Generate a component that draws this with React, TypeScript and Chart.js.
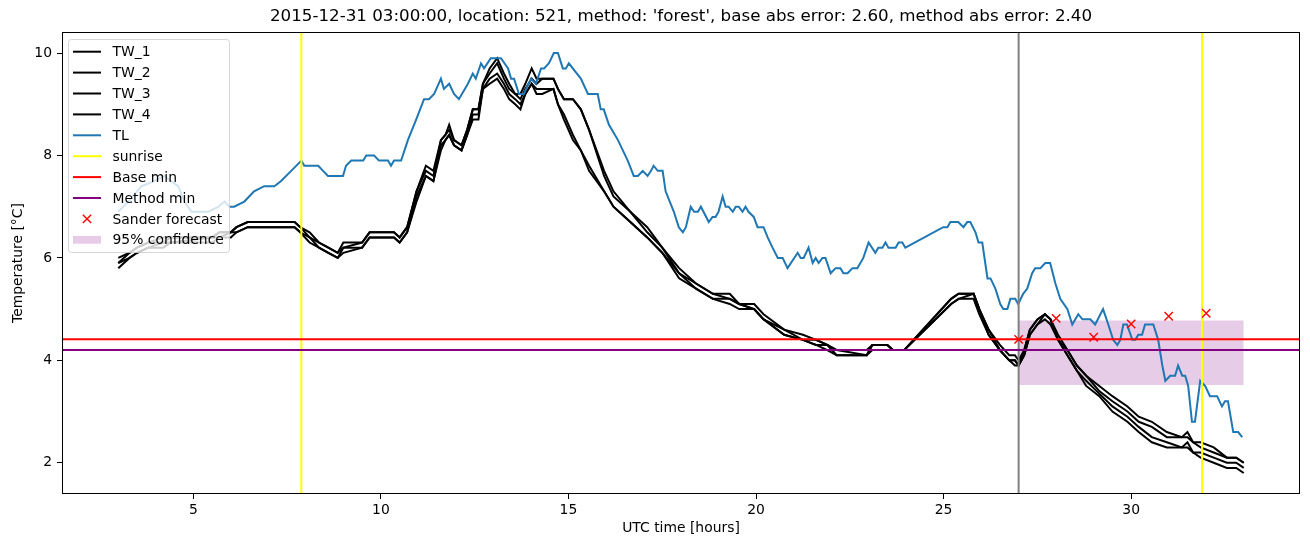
import React, { useEffect, useRef } from "react";
import { Chart, registerables } from "chart.js";

Chart.register(...registerables);

const TITLE =
  "2015-12-31 03:00:00, location: 521, method: 'forest', base abs error: 2.60, method abs error: 2.40";
const X_LABEL = "UTC time [hours]";
const Y_LABEL = "Temperature [°C]";
const X_TICKS = [5, 10, 15, 20, 25, 30];
const Y_TICKS = [2, 4, 6, 8, 10];
const X_MIN = 1.5;
const X_MAX = 34.5;
const Y_MIN = 1.39;
const Y_MAX = 10.41;

// TL: [hour, temperature]
const TL_SERIES: [number, number][] = [
  [3.0, 6.9], [3.27, 7.1], [3.62, 7.4], [3.96, 7.5], [4.23, 7.6], [4.41, 7.5], [4.6, 7.4], [4.76, 7.1],
  [4.95, 6.9], [5.13, 6.9], [5.4, 6.9], [5.67, 7.0], [5.83, 7.1], [5.96, 7.0], [6.09, 7.0], [6.36, 7.1],
  [6.62, 7.3], [6.89, 7.4], [7.16, 7.4], [7.34, 7.5], [7.61, 7.7], [7.88, 7.9], [7.96, 7.8], [8.33, 7.8],
  [8.46, 7.7], [8.59, 7.6], [8.99, 7.6], [9.07, 7.8], [9.21, 7.9], [9.53, 7.9], [9.61, 8.0], [9.82, 8.0],
  [9.95, 7.9], [10.19, 7.9], [10.27, 7.8], [10.35, 7.9], [10.54, 7.9], [10.72, 8.3], [10.94, 8.7], [11.15, 9.1],
  [11.28, 9.1], [11.42, 9.2], [11.6, 9.5], [11.68, 9.3], [11.82, 9.4], [11.95, 9.2], [12.08, 9.1], [12.32, 9.4],
  [12.45, 9.6], [12.53, 9.5], [12.67, 9.8], [12.75, 9.7], [12.93, 9.9], [13.2, 9.9], [13.39, 9.7], [13.47, 9.5],
  [13.55, 9.5], [13.68, 9.2], [13.81, 9.2], [14.0, 9.5], [14.13, 9.4], [14.27, 9.7], [14.35, 9.7], [14.48, 9.8],
  [14.61, 10.0], [14.72, 10.0], [14.85, 9.7], [14.93, 9.7], [15.01, 9.8], [15.33, 9.5], [15.52, 9.2], [15.68, 9.2],
  [15.78, 9.2], [15.86, 8.9], [15.94, 8.9], [16.08, 8.6], [16.32, 8.3], [16.58, 7.9], [16.74, 7.6], [16.85, 7.6],
  [16.98, 7.7], [17.11, 7.6], [17.2, 7.7], [17.27, 7.8], [17.38, 7.7], [17.51, 7.7], [17.59, 7.3], [17.7, 7.1],
  [17.81, 6.9], [17.94, 6.6], [18.05, 6.5], [18.13, 6.6], [18.26, 7.0], [18.35, 6.9], [18.45, 6.9], [18.53, 7.0],
  [18.74, 6.7], [18.84, 6.8], [18.92, 6.8], [19.0, 6.9], [19.11, 7.2], [19.19, 7.0], [19.27, 7.0], [19.38, 6.9],
  [19.46, 7.0], [19.54, 7.0], [19.64, 6.9], [19.72, 7.0], [19.8, 6.9], [19.94, 6.8], [20.04, 6.6], [20.2, 6.6],
  [20.31, 6.4], [20.44, 6.2], [20.58, 6.0], [20.71, 6.0], [20.84, 5.8], [21.11, 6.1], [21.19, 6.0], [21.27, 6.0],
  [21.4, 6.2], [21.51, 5.9], [21.59, 6.0], [21.67, 5.9], [21.77, 6.0], [21.85, 6.0], [21.99, 5.7], [22.12, 5.8],
  [22.25, 5.8], [22.33, 5.7], [22.44, 5.7], [22.57, 5.8], [22.7, 5.8], [22.86, 6.0], [23.0, 6.3], [23.18, 6.1],
  [23.26, 6.2], [23.37, 6.2], [23.45, 6.3], [23.53, 6.2], [23.72, 6.2], [23.8, 6.3], [23.9, 6.3], [23.98, 6.2],
  [24.99, 6.6], [25.1, 6.6], [25.18, 6.7], [25.39, 6.7], [25.53, 6.6], [25.63, 6.7], [25.71, 6.7], [25.85, 6.5],
  [25.93, 6.3], [26.03, 6.3], [26.17, 5.6], [26.25, 5.6], [26.38, 5.4], [26.51, 5.1], [26.59, 5.0], [26.7, 5.0],
  [26.78, 5.2], [26.91, 5.2], [26.99, 5.1], [27.12, 5.3], [27.23, 5.4], [27.36, 5.7], [27.44, 5.8], [27.58, 5.8],
  [27.71, 5.9], [27.84, 5.9], [27.98, 5.5], [28.11, 5.2], [28.3, 5.0], [28.43, 4.7], [28.59, 4.9], [28.7, 4.8],
  [28.91, 4.8], [29.04, 4.7], [29.25, 5.0], [29.39, 4.7], [29.52, 4.4], [29.63, 4.3], [29.71, 4.4], [29.79, 4.7],
  [29.89, 4.7], [30.03, 4.4], [30.11, 4.4], [30.19, 4.5], [30.29, 4.5], [30.37, 4.7], [30.59, 4.7], [30.72, 4.4],
  [30.83, 3.9], [30.91, 3.6], [31.04, 3.7], [31.17, 3.7], [31.25, 3.9], [31.36, 3.7], [31.44, 3.7], [31.52, 3.5],
  [31.62, 2.8], [31.7, 2.8], [31.84, 3.6], [31.97, 3.5], [32.1, 3.3], [32.29, 3.3], [32.42, 3.1], [32.5, 3.2],
  [32.58, 3.2], [32.72, 2.6], [32.85, 2.6], [32.96, 2.5],
];

const TW_HOURS = [
  3.0, 3.3, 3.5, 3.8, 4.2, 4.4, 5.5, 5.7, 6.0, 6.15,
  6.45, 7.7, 7.85, 8.1, 8.35, 8.6, 8.85, 9.0, 9.5, 9.7,
  10.35, 10.5, 10.7, 10.95, 11.2, 11.4, 11.6, 11.72, 11.82, 11.95,
  12.15, 12.3, 12.45, 12.6, 12.72, 12.9, 13.1, 13.28, 13.42, 13.58,
  13.72, 13.85, 14.02, 14.15, 14.3, 14.6, 14.72, 14.88, 15.12, 15.33,
  15.55, 15.95, 16.2, 16.65, 17.1, 17.5, 17.95, 18.4, 18.85, 19.3,
  19.55, 19.95, 20.2, 20.75, 21.25, 21.6, 21.9, 22.15, 22.95, 23.1,
  23.5, 23.65, 23.95, 25.2, 25.4, 25.8, 25.95, 26.2, 26.5, 26.75,
  26.9, 27.0, 27.15, 27.3, 27.5, 27.7, 27.85, 28.05, 28.3, 28.55,
  28.8, 29.15, 29.5, 29.9, 30.2, 30.55, 30.95, 31.35, 31.5, 31.65,
  31.85, 32.2, 32.55, 32.8, 33.0,
];
const TW_1 = [
  6.0, 6.1, 6.2, 6.3, 6.4, 6.4, 6.4, 6.5, 6.5, 6.6,
  6.7, 6.7, 6.6, 6.5, 6.3, 6.2, 6.1, 6.3, 6.3, 6.5,
  6.5, 6.4, 6.6, 7.3, 7.8, 7.7, 8.3, 8.4, 8.6, 8.3,
  8.2, 8.5, 8.9, 8.9, 9.4, 9.7, 9.9, 9.6, 9.4, 9.2,
  9.2, 9.4, 9.7, 9.5, 9.5, 9.5, 9.3, 9.1, 9.1, 8.9,
  8.5, 7.7, 7.3, 6.9, 6.6, 6.2, 5.8, 5.5, 5.3, 5.3,
  5.1, 5.1, 4.9, 4.6, 4.5, 4.4, 4.3, 4.2, 4.2, 4.3,
  4.3, 4.2, 4.2, 5.2, 5.3, 5.3, 5.0, 4.6, 4.3, 4.1,
  4.1, 4.0, 4.2, 4.6, 4.8, 4.9, 4.8, 4.5, 4.2, 3.9,
  3.7, 3.5, 3.3, 3.1, 2.9, 2.8, 2.6, 2.5, 2.6, 2.4,
  2.4, 2.3, 2.1, 2.1, 2.0,
];
const TW_2 = [
  5.9, 6.1, 6.2, 6.3, 6.3, 6.4, 6.4, 6.5, 6.5, 6.6,
  6.7, 6.7, 6.6, 6.4, 6.3, 6.2, 6.1, 6.2, 6.3, 6.5,
  6.5, 6.4, 6.6, 7.3, 7.7, 7.6, 8.3, 8.4, 8.5, 8.3,
  8.2, 8.5, 8.9, 8.9, 9.4, 9.6, 9.8, 9.5, 9.3, 9.2,
  9.1, 9.3, 9.5, 9.4, 9.5, 9.5, 9.3, 9.1, 9.1, 8.9,
  8.5, 7.6, 7.2, 6.9, 6.5, 6.2, 5.7, 5.5, 5.3, 5.2,
  5.1, 5.0, 4.8, 4.6, 4.4, 4.4, 4.3, 4.2, 4.1, 4.3,
  4.3, 4.2, 4.2, 5.2, 5.3, 5.3, 5.0, 4.6, 4.2, 4.0,
  4.0, 3.9, 4.2, 4.6, 4.8, 4.9, 4.8, 4.4, 4.2, 3.9,
  3.7, 3.4, 3.2, 3.0, 2.8, 2.7, 2.5, 2.5, 2.5, 2.4,
  2.3, 2.2, 2.1, 2.1, 2.0,
];
const TW_3 = [
  5.9, 6.0, 6.1, 6.2, 6.3, 6.3, 6.4, 6.4, 6.5, 6.5,
  6.6, 6.6, 6.5, 6.4, 6.2, 6.1, 6.0, 6.2, 6.2, 6.4,
  6.4, 6.3, 6.5, 7.2, 7.6, 7.5, 8.2, 8.3, 8.4, 8.2,
  8.1, 8.4, 8.8, 8.8, 9.3, 9.5, 9.6, 9.4, 9.2, 9.1,
  9.0, 9.2, 9.4, 9.3, 9.3, 9.3, 9.0, 8.8, 8.4, 8.1,
  7.8, 7.3, 7.0, 6.7, 6.4, 6.1, 5.7, 5.4, 5.2, 5.2,
  5.1, 5.0, 4.8, 4.5, 4.4, 4.3, 4.3, 4.1, 4.1, 4.3,
  4.3, 4.2, 4.2, 5.1, 5.2, 5.3, 5.0, 4.5, 4.2, 4.0,
  4.0, 3.9, 4.1, 4.5, 4.7, 4.9, 4.8, 4.4, 4.1, 3.8,
  3.6, 3.35, 3.1, 2.9, 2.7, 2.5, 2.4, 2.3, 2.4, 2.2,
  2.2, 2.1, 2.0, 2.0, 1.9,
];
const TW_4 = [
  5.8, 6.0, 6.1, 6.2, 6.2, 6.3, 6.3, 6.4, 6.4, 6.5,
  6.6, 6.6, 6.5, 6.3, 6.2, 6.1, 6.0, 6.1, 6.2, 6.4,
  6.4, 6.3, 6.5, 7.1, 7.6, 7.5, 8.1, 8.3, 8.4, 8.2,
  8.1, 8.4, 8.7, 8.7, 9.3, 9.4, 9.5, 9.3, 9.1, 9.0,
  8.9, 9.2, 9.4, 9.2, 9.2, 9.3, 9.0, 8.7, 8.3, 8.1,
  7.7, 7.3, 7.0, 6.7, 6.4, 6.1, 5.6, 5.4, 5.2, 5.1,
  5.0, 5.0, 4.8, 4.5, 4.4, 4.3, 4.2, 4.1, 4.1, 4.2,
  4.2, 4.2, 4.2, 5.1, 5.2, 5.2, 4.9, 4.5, 4.2, 4.0,
  3.9, 3.9, 4.1, 4.5, 4.7, 4.8, 4.7, 4.4, 4.1, 3.8,
  3.5, 3.3, 3.0, 2.8, 2.6, 2.4, 2.3, 2.3, 2.3, 2.2,
  2.1, 2.0, 1.9, 1.9, 1.8,
];

const SUNRISE_HOURS = [7.88, 31.89];
const ISSUE_HOURS = [27.0];
const BASE_MIN = 4.41;
const METHOD_MIN = 4.2;
const FORECAST_HOURS = [27, 28, 29, 30, 31, 32];
const FORECAST_VALUES = [4.41, 4.82, 4.45, 4.71, 4.86, 4.92];
const CONF_HOURS = [27.0, 33.0];
const CONF_LOW = 3.52;
const CONF_HIGH = 4.78;

const FONT = "'DejaVu Sans', sans-serif";

const pts = (xs: number[], ys: number[]) => xs.map((x, i) => ({ x, y: ys[i] }));
const vlines = (hours: number[]) =>
  hours.flatMap((h) => [
    { x: h, y: Y_MIN },
    { x: h, y: Y_MAX },
    { x: h, y: null as any },
  ]);

const line = (label: string, data: any[], color: string, order: number) => ({
  label,
  data,
  borderColor: color,
  backgroundColor: color,
  borderWidth: 2,
  pointRadius: 0,
  pointHoverRadius: 0,
  fill: false,
  tension: 0,
  spanGaps: false,
  order,
});

const framePlugin = {
  id: "mplFrame",
  afterDatasetsDraw(chart: any) {
    const { ctx, chartArea: a } = chart;
    ctx.save();
    ctx.strokeStyle = "#000";
    ctx.lineWidth = 1;
    ctx.strokeRect(Math.round(a.left) + 0.5, Math.round(a.top) + 0.5, Math.round(a.right - a.left) - 1, Math.round(a.bottom - a.top) - 1);
    ctx.restore();
  },
};

const legendPlugin = {
  id: "mplLegend",
  afterDraw(chart: any) {
    const { ctx, chartArea: a } = chart;
    const items = chart.data.datasets.filter((d: any) => !String(d.label).startsWith("_"));
    const x0 = Math.round(a.left) + 6.5;
    const y0 = Math.round(a.top) + 7.5;
    const w = 161;
    const rowH = 20.9;
    const h = 213;
    const r = 3;
    ctx.save();
    ctx.globalAlpha = 1;
    ctx.globalCompositeOperation = "source-over";
    ctx.fillStyle = "rgba(255,255,255,0.8)";
    ctx.fillRect(x0, y0, w, h);
    ctx.beginPath();
    ctx.moveTo(x0 + r, y0);
    ctx.lineTo(x0 + w - r, y0);
    ctx.arcTo(x0 + w, y0, x0 + w, y0 + r, r);
    ctx.lineTo(x0 + w, y0 + h - r);
    ctx.arcTo(x0 + w, y0 + h, x0 + w - r, y0 + h, r);
    ctx.lineTo(x0 + r, y0 + h);
    ctx.arcTo(x0, y0 + h, x0, y0 + h - r, r);
    ctx.lineTo(x0, y0 + r);
    ctx.arcTo(x0, y0, x0 + r, y0, r);
    ctx.closePath();
    ctx.strokeStyle = "rgba(204,204,204,0.8)";
    ctx.lineWidth = 1;
    ctx.stroke();

    const hx0 = x0 + 4.5;
    const hx1 = hx0 + 28;
    const tx = x0 + 44;
    items.forEach((d: any, i: number) => {
      const cy = y0 + 12.2 + i * rowH;
      if (d.fill && typeof d.fill === "object") {
        ctx.fillStyle = d.backgroundColor;
        ctx.fillRect(hx0, cy - 3.9, 28, 7.8);
      } else if (d.showLine === false) {
        const cx = (hx0 + hx1) / 2;
        const s = 4.2;
        ctx.strokeStyle = d.pointBorderColor;
        ctx.lineWidth = 1.4;
        ctx.beginPath();
        ctx.moveTo(cx - s, cy - s);
        ctx.lineTo(cx + s, cy + s);
        ctx.moveTo(cx - s, cy + s);
        ctx.lineTo(cx + s, cy - s);
        ctx.stroke();
      } else {
        ctx.strokeStyle = d.borderColor;
        ctx.lineWidth = 2;
        ctx.beginPath();
        ctx.moveTo(hx0, cy);
        ctx.lineTo(hx1, cy);
        ctx.stroke();
      }
      ctx.fillStyle = "#000";
      ctx.font = `13.9px ${FONT}`;
      ctx.textBaseline = "middle";
      ctx.textAlign = "left";
      ctx.fillText(d.label, tx, cy + 1);
    });
    ctx.restore();
  },
};

export default function App() {
  const ref = useRef<HTMLCanvasElement>(null);

  useEffect(() => {
    const canvas = ref.current;
    if (!canvas) return;
    Chart.defaults.font.family = FONT;
    Chart.defaults.color = "#000";

    const datasets: any[] = [
      line("TW_1", pts(TW_HOURS, TW_1), "#000000", 9),
      line("TW_2", pts(TW_HOURS, TW_2), "#000000", 8),
      line("TW_3", pts(TW_HOURS, TW_3), "#000000", 7),
      line("TW_4", pts(TW_HOURS, TW_4), "#000000", 6),
      line("TL", TL_SERIES.map(([x, y]) => ({ x, y })), "#1f77b4", 5),
      line("sunrise", vlines(SUNRISE_HOURS), "#ffff00", 3),
      line("Base min", [{ x: X_MIN, y: BASE_MIN }, { x: X_MAX, y: BASE_MIN }], "#ff0000", 2),
      line("Method min", [{ x: X_MIN, y: METHOD_MIN }, { x: X_MAX, y: METHOD_MIN }], "#800080", 1),
      {
        label: "Sander forecast",
        data: pts(FORECAST_HOURS, FORECAST_VALUES),
        showLine: false,
        pointStyle: "crossRot",
        pointRadius: 5.9,
        pointHoverRadius: 5.9,
        pointBorderColor: "#ff0000",
        pointBackgroundColor: "#ff0000",
        pointBorderWidth: 1.4,
        borderColor: "#ff0000",
        backgroundColor: "#ff0000",
        order: 0,
      },
      {
        label: "95% confidence",
        data: CONF_HOURS.map((x) => ({ x, y: CONF_HIGH })),
        borderWidth: 0,
        borderColor: "rgba(0,0,0,0)",
        backgroundColor: "rgba(128,0,128,0.2)",
        pointRadius: 0,
        fill: { value: CONF_LOW },
        order: 10,
      },
      line("_issue", vlines(ISSUE_HOURS), "#808080", 4),
    ];

    const chart = new Chart(canvas, {
      type: "line",
      data: { datasets },
      options: {
        responsive: false,
        animation: false,
        devicePixelRatio: 1,
        events: [],
        layout: { padding: { left: 0, right: 10, top: 0, bottom: 0 } },
        plugins: {
          legend: { display: false },
          tooltip: { enabled: false },
          title: {
            display: true,
            text: TITLE,
            fullSize: false,
            color: "#000",
            font: { family: FONT, size: 16.7, weight: "normal", lineHeight: 1.2 },
            padding: { top: 7, bottom: 5 },
          },
        },
        scales: {
          x: {
            type: "linear",
            min: X_MIN,
            max: X_MAX,
            afterFit: (s: any) => {
              s.height = 53;
            },
            afterBuildTicks: (s: any) => {
              s.ticks = X_TICKS.map((v) => ({ value: v }));
            },
            ticks: {
              autoSkip: false,
              maxRotation: 0,
              padding: 3,
              color: "#000",
              font: { family: FONT, size: 13.9 },
              callback: (v: any) => String(v),
            },
            grid: { display: true, drawOnChartArea: false, drawTicks: true, tickLength: 5, color: "#000", lineWidth: 1 },
            border: { display: false },
            title: {
              display: true,
              text: X_LABEL,
              color: "#000",
              font: { family: FONT, size: 13.9, lineHeight: 1.2 },
              padding: { top: 0, bottom: 10 },
            },
          },
          y: {
            type: "linear",
            min: Y_MIN,
            max: Y_MAX,
            afterFit: (s: any) => {
              s.width = 62;
            },
            afterBuildTicks: (s: any) => {
              s.ticks = Y_TICKS.map((v) => ({ value: v }));
            },
            ticks: {
              autoSkip: false,
              padding: 5,
              color: "#000",
              font: { family: FONT, size: 13.9 },
              callback: (v: any) => String(v),
            },
            grid: { display: true, drawOnChartArea: false, drawTicks: true, tickLength: 5, color: "#000", lineWidth: 1 },
            border: { display: false },
            title: {
              display: true,
              text: Y_LABEL,
              color: "#000",
              font: { family: FONT, size: 13.9, lineHeight: 1.2 },
              padding: { top: 10, bottom: 0 },
            },
          },
        },
      } as any,
      plugins: [framePlugin, legendPlugin],
    });

    return () => chart.destroy();
  }, []);

  return (
    <div style={{ position: "absolute", left: 0, top: 0, width: 1310, height: 547, background: "#fff" }}>
      <canvas ref={ref} width={1310} height={547} style={{ display: "block", width: 1310, height: 547 }} />
    </div>
  );
}
